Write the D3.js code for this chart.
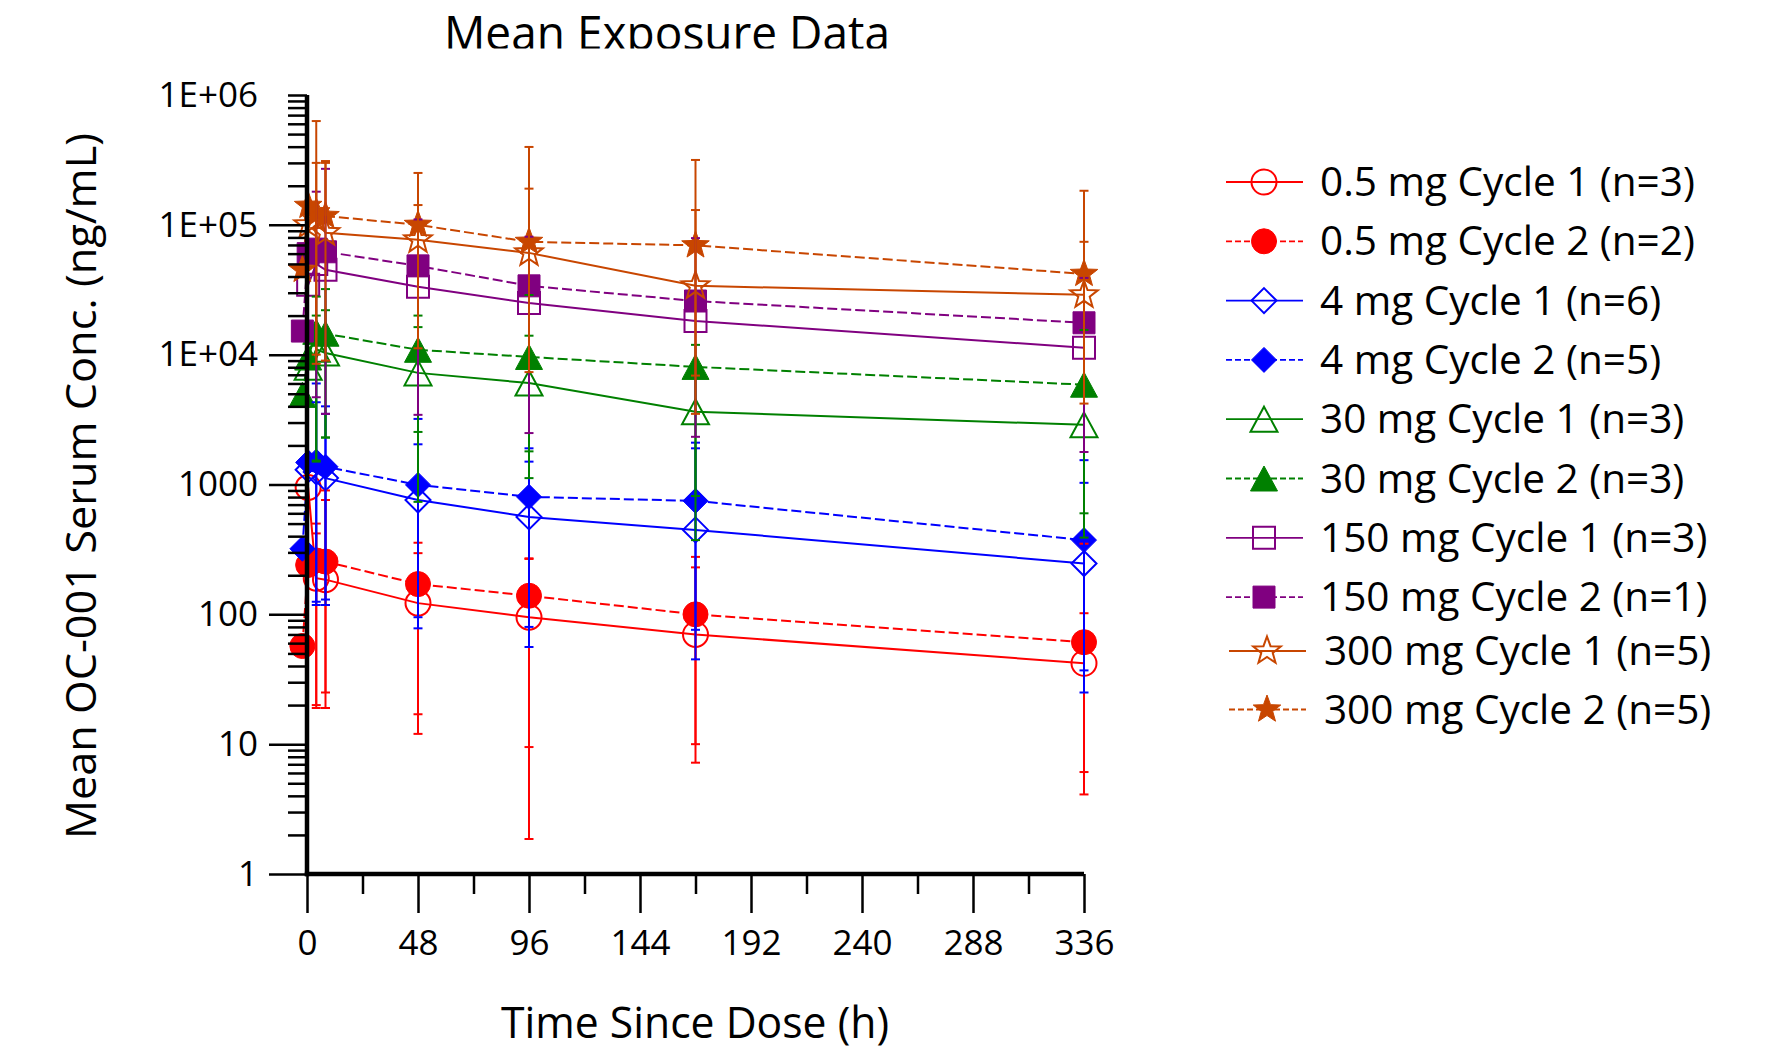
<!DOCTYPE html>
<html><head><meta charset="utf-8">
<script src="https://cdn.jsdelivr.net/npm/d3@7"></script>
<style>body{margin:0;background:#fff;} svg{display:block;}</style>
</head><body>
<svg id="chart" width="1765" height="1050"></svg>
<script>
// ---------------- DATA ----------------
const chartTitle = "Mean Exposure Data";
const xTitle = "Time Since Dose (h)";
const yTitle = "Mean OC-001 Serum Conc. (ng/mL)";
const xTickValues = [0, 48, 96, 144, 192, 240, 288, 336];
const xMinorTicks = [24, 72, 120, 168, 216, 264, 312];
const yTickValues = [1, 10, 100, 1000, 1e4, 1e5, 1e6];
const yTickLabels = ["1", "10", "100", "1000", "1E+04", "1E+05", "1E+06"];

const timesCycle1 = [0.5, 4, 8, 48, 96, 168, 336];
const timesCycle2 = [-2, 0.5, 4, 8, 48, 96, 168, 336];

const seriesNames = [
  "0.5 mg Cycle 1 (n=3)", "0.5 mg Cycle 2 (n=2)",
  "4 mg Cycle 1 (n=6)", "4 mg Cycle 2 (n=5)",
  "30 mg Cycle 1 (n=3)", "30 mg Cycle 2 (n=3)",
  "150 mg Cycle 1 (n=3)", "150 mg Cycle 2 (n=1)",
  "300 mg Cycle 1 (n=5)", "300 mg Cycle 2 (n=5)"
];

// means, lower and upper error-bar ends (null = not drawn)
const mean05C1 = [950, 190, 185, 122, 95, 70, 42];
const lo05C1   = [null, 19, 25, 17, 1.86, 7.2, 4.1];
const hi05C1   = [null, 420, 760, 296, 270, 230, 102];
const mean05C2 = [57, 240, 260, 255, 171, 139, 100, 61];
const lo05C2   = [null, null, 20, 19, 12, 9.5, 10, 6.1];
const hi05C2   = [null, null, 500, 900, 356, 267, 277, 350];

const mean4C1 = [1300, 1250, 1120, 760, 563, 447, 246];
const lo4C1   = [null, 118, 130, 78, 56, 45, 25];
const hi4C1   = [null, 4300, 3500, 3200, 1500, 1900, 1030];
const mean4C2 = [320, 1480, 1500, 1370, 993, 803, 748, 373];
const lo4C2   = [null, null, 125, 118, 95, 80, 76, 37];
const hi4C2   = [null, null, 6000, 4000, 2040, 1900, 2100, 1540];

const mean30C1 = [8000, 11000, 10300, 7240, 6040, 3630, 2880];
const lo30C1   = [null, 1500, 2300, 735, 1800, 373, 390];
const hi30C1   = [null, 20000, 22000, 16300, 14000, 7000, 5500];
const mean30C2 = [4900, 9500, 15000, 14500, 10900, 9600, 8050, 5870];
const lo30C2   = [null, null, 1530, 2300, 2540, 1120, 815, 600];
const hi30C2   = [null, null, 28000, 32000, 20000, 28800, 11900, 15500];

const mean150C1 = [34500, 50000, 45000, 33300, 25000, 18200, 11300];
const lo150C1   = [null, 4700, 3500, 3440, 2490, 2330, 1780];
const hi150C1   = [null, 180000, 270000, 110000, 81000, 79000, 39000];
const mean150C2 = [15200, 60000, 65000, 62000, 48300, 33900, 25900, 17600];
const lo150C2   = [null, null, null, null, null, null, null, null];
const hi150C2   = [null, null, null, null, null, null, null, null];

const mean300C1 = [100000, 110000, 87000, 76700, 60800, 33900, 28900];
const lo300C1   = [null, 10000, 9000, 11200, 7340, 3500, 4200];
const hi300C1   = [null, 300000, 310000, 142000, 190000, 130000, 74000];
const mean300C2 = [45000, 140000, 125000, 117000, 100000, 74000, 69500, 41900];
const lo300C2   = [null, null, 8500, null, null, null, 6900, null];
const hi300C2   = [null, null, 630000, 300000, 251000, 398000, 316000, 183000];

// ---------------- STYLES ----------------
const RED = "#FF0000", BLUE = "#0000FF", GREEN = "#008000", PURPLE = "#800080", ORANGE = "#C84600";
const styles = [
  {color: RED, marker: "circle", filled: false, dashed: false},
  {color: RED, marker: "circle", filled: true, dashed: true},
  {color: BLUE, marker: "diamond", filled: false, dashed: false},
  {color: BLUE, marker: "diamond", filled: true, dashed: true},
  {color: GREEN, marker: "triangle", filled: false, dashed: false},
  {color: GREEN, marker: "triangle", filled: true, dashed: true},
  {color: PURPLE, marker: "square", filled: false, dashed: false},
  {color: PURPLE, marker: "square", filled: true, dashed: true},
  {color: ORANGE, marker: "star", filled: false, dashed: false},
  {color: ORANGE, marker: "star", filled: true, dashed: true}
];

const raw = [
  [timesCycle1, mean05C1, lo05C1, hi05C1], [timesCycle2, mean05C2, lo05C2, hi05C2],
  [timesCycle1, mean4C1, lo4C1, hi4C1], [timesCycle2, mean4C2, lo4C2, hi4C2],
  [timesCycle1, mean30C1, lo30C1, hi30C1], [timesCycle2, mean30C2, lo30C2, hi30C2],
  [timesCycle1, mean150C1, lo150C1, hi150C1], [timesCycle2, mean150C2, lo150C2, hi150C2],
  [timesCycle1, mean300C1, lo300C1, hi300C1], [timesCycle2, mean300C2, lo300C2, hi300C2]
];
const series = raw.map((r, i) => ({
  name: seriesNames[i], style: styles[i],
  points: r[0].map((t, j) => ({t: t, v: r[1][j], lo: r[2][j], hi: r[3][j]}))
}));

// ---------------- CHART ----------------
const FONT = "'Open Sans', 'Noto Sans', sans-serif";
const svg = d3.select("#chart");
const x = d3.scaleLinear().domain([0, 336]).range([307, 1084]);
const y = d3.scaleLog().domain([1, 1e6]).range([874, 95]);

function starPath(R, r) {
  const pts = [];
  for (let k = 0; k < 10; k++) {
    const a = -Math.PI / 2 + k * Math.PI / 5;
    const rad = k % 2 === 0 ? R : r;
    pts.push([rad * Math.cos(a), rad * Math.sin(a)]);
  }
  return "M" + pts.map(p => p[0].toFixed(2) + "," + p[1].toFixed(2)).join("L") + "Z";
}
const markerPaths = {
  circle: "M12.5,0A12.5,12.5 0 1,1 -12.5,0A12.5,12.5 0 1,1 12.5,0Z",
  diamond: "M0,-12.5L12.5,0L0,12.5L-12.5,0Z",
  square: "M-11,-11H11V11H-11Z",
  triangle: "M0,-12.5L13.5,12.5L-13.5,12.5Z",
  star: starPath(14.5, 6)
};
function drawMarker(g, st, cx, cy) {
  g.append("path").attr("d", markerPaths[st.marker])
    .attr("transform", `translate(${cx},${cy})`)
    .attr("fill", st.filled ? st.color : "none")
    .attr("stroke", st.color)
    .attr("stroke-width", st.filled ? 1 : 2)
    .attr("stroke-linejoin", "miter");
}

// title (clipped at top like the reference)
svg.append("clipPath").attr("id", "titleClip").append("rect")
  .attr("x", 0).attr("y", 0).attr("width", 1765).attr("height", 48.5);
svg.append("text").attr("clip-path", "url(#titleClip)")
  .attr("x", 667).attr("y", 50).attr("text-anchor", "middle")
  .attr("font-family", FONT).attr("font-size", 47)
  .attr("textLength", 446).attr("lengthAdjust", "spacingAndGlyphs")
  .text(chartTitle);

// lines
const lineGen = d3.line().x(d => x(d.t)).y(d => y(d.v));
const gLines = svg.append("g");
series.forEach(s => {
  gLines.append("path").datum(s.points)
    .attr("d", lineGen).attr("fill", "none")
    .attr("stroke", s.style.color).attr("stroke-width", 2)
    .attr("stroke-dasharray", s.style.dashed ? "10,4" : null);
});

// markers
const gMarkers = svg.append("g");
series.forEach(s => {
  s.points.forEach(p => drawMarker(gMarkers, s.style, x(p.t), y(p.v)));
});

// error bars
const gErr = svg.append("g");
series.forEach(s => {
  s.points.forEach(p => {
    if (p.hi == null && p.lo == null) return;
    const cx = x(p.t);
    const top = p.hi != null ? y(p.hi) : y(p.v);
    const bot = p.lo != null ? y(p.lo) : y(p.v);
    gErr.append("line").attr("x1", cx).attr("x2", cx).attr("y1", top).attr("y2", bot)
      .attr("stroke", s.style.color).attr("stroke-width", 2);
    if (p.hi != null) gErr.append("line").attr("x1", cx - 4.5).attr("x2", cx + 4.5)
      .attr("y1", top).attr("y2", top).attr("stroke", s.style.color).attr("stroke-width", 2);
    if (p.lo != null) gErr.append("line").attr("x1", cx - 4.5).attr("x2", cx + 4.5)
      .attr("y1", bot).attr("y2", bot).attr("stroke", s.style.color).attr("stroke-width", 2);
  });
});

// y axis
const yMinor = [];
yTickValues.slice(0, -1).forEach(d => { for (let k = 2; k <= 9; k++) yMinor.push(d * k); });
const gyMinor = svg.append("g").attr("transform", `translate(${x(0)},0)`)
  .call(d3.axisLeft(y).tickValues(yMinor).tickSize(19).tickFormat("").tickSizeOuter(0));
const gyMajor = svg.append("g").attr("transform", `translate(${x(0)},0)`)
  .call(d3.axisLeft(y).tickValues(yTickValues).tickSize(38).tickPadding(11).tickSizeOuter(0)
    .tickFormat((d, i) => yTickLabels[i]));
gyMajor.selectAll(".tick").filter(d => d === 1e6).select("line").attr("x2", -19);
[gyMinor, gyMajor].forEach(g => {
  g.select(".domain").remove();
  g.selectAll(".tick line").attr("stroke", "#000").attr("stroke-width", 2.5);
});
gyMajor.selectAll(".tick text").attr("font-family", FONT).attr("font-size", 35).attr("fill", "#000");

// x axis
const gxMinor = svg.append("g").attr("transform", `translate(0,${y(1)})`)
  .call(d3.axisBottom(x).tickValues(xMinorTicks).tickSize(20).tickFormat("").tickSizeOuter(0));
const gxMajor = svg.append("g").attr("transform", `translate(0,${y(1)})`)
  .call(d3.axisBottom(x).tickValues(xTickValues).tickSize(39).tickPadding(17).tickSizeOuter(0)
    .tickFormat(d => String(d)));
[gxMinor, gxMajor].forEach(g => {
  g.select(".domain").remove();
  g.selectAll(".tick line").attr("stroke", "#000").attr("stroke-width", 2.5);
});
gxMajor.selectAll(".tick text").attr("font-family", FONT).attr("font-size", 35).attr("fill", "#000");

// axis lines (thick)
svg.append("line").attr("x1", x(0)).attr("x2", x(0)).attr("y1", y(1e6)).attr("y2", y(1) + 2.2)
  .attr("stroke", "#000").attr("stroke-width", 4.5);
svg.append("line").attr("x1", x(0) - 2.2).attr("x2", x(336)).attr("y1", y(1)).attr("y2", y(1))
  .attr("stroke", "#000").attr("stroke-width", 4.5);

// axis titles
svg.append("text").attr("x", 695).attr("y", 1038).attr("text-anchor", "middle")
  .attr("font-family", FONT).attr("font-size", 43)
  .attr("textLength", 388).attr("lengthAdjust", "spacingAndGlyphs").text(xTitle);
svg.append("text").attr("transform", "translate(96,486) rotate(-90)").attr("text-anchor", "middle")
  .attr("font-family", FONT).attr("font-size", 42)
  .attr("textLength", 706).attr("lengthAdjust", "spacingAndGlyphs").text(yTitle);

// legend
const gLeg = svg.append("g");
series.forEach((s, i) => {
  const cy = i < 8 ? 182 + i * 59.3 : (i === 8 ? 651 : 709.5);
  const dx = i >= 8 ? 3 : 0;
  gLeg.append("line").attr("x1", 1226 + dx).attr("x2", 1303 + dx).attr("y1", cy).attr("y2", cy)
    .attr("stroke", s.style.color).attr("stroke-width", 1.8)
    .attr("stroke-dasharray", s.style.dashed ? "6,3" : null);
  drawMarker(gLeg, s.style, 1264 + dx, cy);
  gLeg.append("text").attr("x", 1320 + dx * 1.3).attr("y", cy + 14)
    .attr("font-family", FONT).attr("font-size", 40.5).attr("fill", "#000").text(s.name);
});
</script>
</body></html>
